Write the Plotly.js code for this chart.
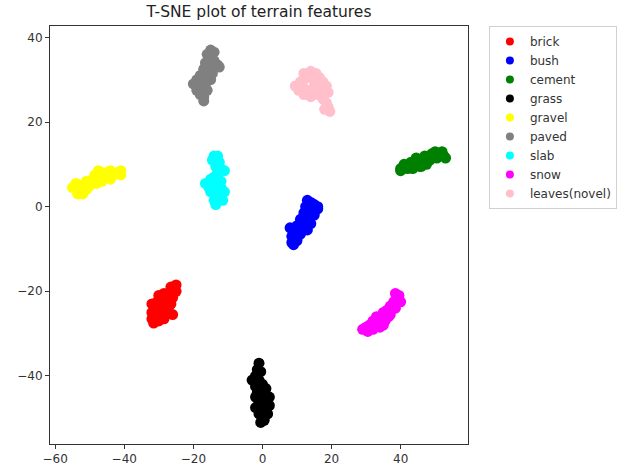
<!DOCTYPE html>
<html>
<head>
<meta charset="utf-8">
<script src="https://cdn.plot.ly/plotly-3.0.1.min.js"></script>
<style>html,body{margin:0;padding:0;background:#fff;}#chart{width:634px;height:470px;}</style>
</head>
<body>
<div id="chart"></div>
<script>
// Category names and colours
const categories = ["brick","bush","cement","grass","gravel","paved","slab","snow","leaves(novel)"];
const colors = ["red","blue","green","black","yellow","gray","cyan","magenta","pink"];

// Points, per category
const brickX = [-25,-26.5,-25,-27,-28.5,-30,-26,-28,-30.5,-32,-29,-27,-31,-32,-29.5,-27.5,-26,-31,-28.5,-31.5,-30,-29,-26.5,-32];
const brickY = [-18.5,-19,-20,-20.5,-20.5,-21,-21.5,-22,-22.5,-23,-23.5,-23.5,-24,-25,-25,-25,-25.5,-26,-26.5,-27.5,-27,-24.5,-23,-26.5];

const bushX = [13,14,15,12.5,16,14,12,15,13,11,14,12,10,8,9,11,13,8.5,10,9,8.5,11,12.5,16];
const bushY = [1.5,1,0.5,0,-0.5,-1,-1.5,-2,-3,-3,-4,-5,-4.5,-5,-6,-6.5,-5.5,-7,-8,-9,-8.5,-4,-3,0];

const cementX = [40,40,41,42,43,43.5,44,45,45.5,46.5,47,47.5,48.5,49,50,50.5,51,52,52.5,53,48,42,44.5,46];
const cementY = [9,8.5,10,9,10.5,9,10,11,9.5,10.5,12,10,11,12.5,13,11.5,12,13,12,11.5,11.5,9.5,11.5,9.5];

const grassX = [-1,-1.5,-0.5,-2,-3,-1,0,-2,1,-1,0.5,2,-2,-1,1,2,-2,0,-1,1.5,0,-0.5,0.5,-1.5];
const grassY = [-37,-38.5,-39,-40,-41,-41,-42,-42.5,-43,-43.5,-44.5,-45,-45,-46,-46.5,-47,-47.5,-48,-49,-49,-50,-51,-50.5,-44];

const gravelX = [-55,-54,-53,-52,-52.5,-51,-51,-49,-48,-47,-48.5,-46,-45,-44,-43,-42,-41,-41,-46.5,-50,-53.5,-44,-47.5];
const gravelY = [4.5,5.5,4,3,5,4,6,6.5,5.5,7,7.5,8,7,8.5,7.5,8,8.5,7.5,6,5,3,6.5,8.5];

const pavedX = [-15,-14,-16,-15,-14,-16.5,-13,-12.5,-15,-17,-16,-14.5,-18,-19,-17,-20,-18.5,-17,-16,-19,-18,-17,-17,-16.5,-15];
const pavedY = [37,36.5,36,35,34.5,34,33.5,33,33,32.5,31.5,31.5,31,30,30,29,28.5,28,27.5,27.5,26.5,26,25,29,30];

const slabX = [-14,-13,-14.5,-12.5,-13.5,-12,-11,-13,-14,-15,-16.5,-15.5,-13,-12,-14,-12,-11,-13.5,-15,-12.5,-14,-13.5,-11.5,-15.5];
const slabY = [12,12,11,10.5,9.5,9,8.5,8,7,6.5,5.5,5,6,6,4.5,4.5,3.5,3,3.5,2,1.5,0.5,1.5,4.5];

const snowX = [39.5,38.5,40,38,37,38.5,36,35,37,34,33.5,35.5,32,31,30,29,30.5,32,34,35,36.5,33];
const snowY = [-21,-20.5,-22.5,-22.5,-23.5,-24,-24.5,-25,-25.5,-26,-27.5,-27,-27,-28,-28.5,-29,-29.5,-29,-28.5,-28,-26,-26];

const leavesX = [12,14,15.5,13,16.5,11,17.5,9.5,10.5,13,15,17,18.5,19,12,14,16,17.5,18.5,19,19.5,18,11.5,15,14];
const leavesY = [31.5,32,31.5,30.5,30.5,29.5,29.5,28.5,27.5,27.5,28.5,28,28.5,27,26.5,26,26.5,25.5,24.5,23.5,22.5,23,29,30,27.5];

const xs = [brickX,bushX,cementX,grassX,gravelX,pavedX,slabX,snowX,leavesX];
const ys = [brickY,bushY,cementY,grassY,gravelY,pavedY,slabY,snowY,leavesY];

const traces = categories.map((name,i)=>({
  type:"scatter", mode:"markers", name:name, showlegend:false,
  x: xs[i], y: ys[i],
  marker:{color:colors[i], size:11, line:{width:0}}
}));
// legend entries (smaller markers, like the reference legend)
const legendTraces = categories.map((name,i)=>({
  type:"scatter", mode:"markers", name:name, showlegend:true,
  x:[null], y:[null],
  marker:{color:colors[i], size:8, line:{width:0}}
}));

const layout = {
  width:634, height:470,
  margin:{l:50, r:166, t:26, b:26},
  paper_bgcolor:"#fff", plot_bgcolor:"#fff",
  font:{family:"DejaVu Sans, sans-serif", size:12, color:"#333"},
  title:{text:"T-SNE plot of terrain features", x:0.5, xref:"paper", y:0.975, yanchor:"middle", font:{size:15.5, color:"#222"}},
  xaxis:{range:[-61.5,59.5], tickvals:[-60,-40,-20,0,20,40], ticktext:["\u221260","\u221240","\u221220","0","20","40"],
         showgrid:false, zeroline:false, showline:true, mirror:true, linecolor:"#333", linewidth:1,
         ticks:"outside", ticklen:4, tickcolor:"#333", tickfont:{size:12,color:"#333"}},
  yaxis:{range:[-56.1,42.7], tickvals:[-40,-20,0,20,40], ticktext:["\u221240","\u221220","0","20","40"],
         showgrid:false, zeroline:false, showline:true, mirror:true, linecolor:"#333", linewidth:1,
         ticks:"outside", ticklen:4, tickcolor:"#333", tickfont:{size:12,color:"#333"}},
  showlegend:true,
  legend:{x:1.05, xanchor:"left", y:1, yanchor:"top", bordercolor:"#d0d0d0", borderwidth:1,
          bgcolor:"#fff", font:{size:12,color:"#333"}, tracegroupgap:0}
};

Plotly.newPlot("chart", traces.concat(legendTraces), layout, {displayModeBar:false, staticPlot:true});
</script>
</body>
</html>
